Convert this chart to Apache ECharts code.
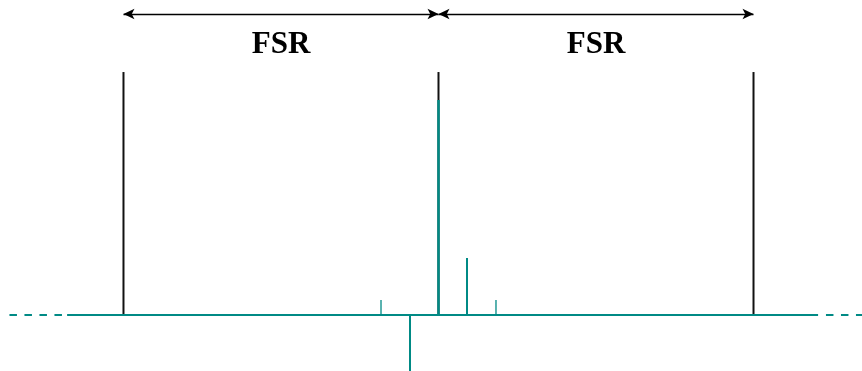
<!DOCTYPE html>
<html>
<head>
<meta charset="utf-8">
<script src="https://cdn.jsdelivr.net/npm/echarts@6/dist/echarts.min.js"></script>
<style>
  html, body { margin: 0; padding: 0; background: #ffffff; }
  #chart { width: 862px; height: 371px; }
</style>
</head>
<body>
<div id="chart"></div>
<script>
// Frequency in units of the free spectral range; amplitude normalised to the carrier.
const resonancePositions = [-1, 0, 1];
const resonanceHeight = 1.13;

const stemPositions = [-0.1825, -0.0905, 0, 0.0905, 0.1825];
const stemAmplitudes = [0.07, -0.27, 1.0, 0.265, 0.07];
const stemWidths = [1.3, 2, 2.5, 2, 1.3];

const baselineSolid = [-1.179, 1.205];
const baselineDashedLeft = [-1.362, -1.179];
const baselineDashedRight = [1.23, 1.36];

const spanLabels = ['FSR', 'FSR'];
const spanEdges = [[-1, 0], [0, 1]];
const arrowLevel = 1.4;
const labelLevel = 1.255;

const TEAL = '#008a85';
const INK = '#000000';

const series = [];

// cavity resonances, one free spectral range apart
resonancePositions.forEach(function (x) {
  series.push({
    type: 'line', silent: true, showSymbol: false, z: 2,
    lineStyle: { color: '#111111', width: 2 },
    data: [[x, 0], [x, resonanceHeight]]
  });
});

// frequency axis
series.push({
  type: 'line', silent: true, showSymbol: false, z: 3,
  lineStyle: { color: TEAL, width: 2 },
  data: [[baselineSolid[0], 0], [baselineSolid[1], 0]]
});
[baselineDashedLeft, baselineDashedRight].forEach(function (seg) {
  series.push({
    type: 'line', silent: true, showSymbol: false, z: 3,
    lineStyle: { color: TEAL, width: 2, type: [7.5, 7.5] },
    data: [[seg[0], 0], [seg[1], 0]]
  });
});

// carrier and sidebands
stemPositions.forEach(function (x, i) {
  series.push({
    type: 'line', silent: true, showSymbol: false, z: 4,
    lineStyle: { color: TEAL, width: stemWidths[i] },
    data: [[x, 0], [x, stemAmplitudes[i]]]
  });
});

// span arrows
series.push({
  type: 'line', silent: true, showSymbol: false, z: 5,
  data: [],
  markLine: {
    silent: true,
    symbol: ['arrow', 'arrow'],
    symbolSize: [8, 11],
    lineStyle: { color: INK, width: 1.4, type: 'solid' },
    label: { show: false },
    data: spanEdges.map(function (e) {
      return [{ coord: [e[0], arrowLevel] }, { coord: [e[1], arrowLevel] }];
    })
  }
});

// span labels
series.push({
  type: 'scatter', silent: true, symbolSize: 0, z: 6,
  itemStyle: { opacity: 1 },
  label: {
    show: true, position: 'inside',
    formatter: function (p) { return p.name; },
    fontFamily: 'Liberation Serif', fontWeight: 'bold', fontSize: 31, color: INK
  },
  data: spanEdges.map(function (e, i) {
    return { name: spanLabels[i], value: [(e[0] + e[1]) / 2, labelLevel] };
  })
});

const chart = echarts.init(document.getElementById('chart'), null, { renderer: 'canvas' });
chart.setOption({
  animation: false,
  backgroundColor: '#ffffff',
  grid: { left: 0, right: 0, top: 0, bottom: 0 },
  xAxis: { type: 'value', min: -1.392, max: 1.3444, show: false },
  yAxis: { type: 'value', min: -0.2605, max: 1.465, show: false },
  series: series
});
</script>
</body>
</html>
